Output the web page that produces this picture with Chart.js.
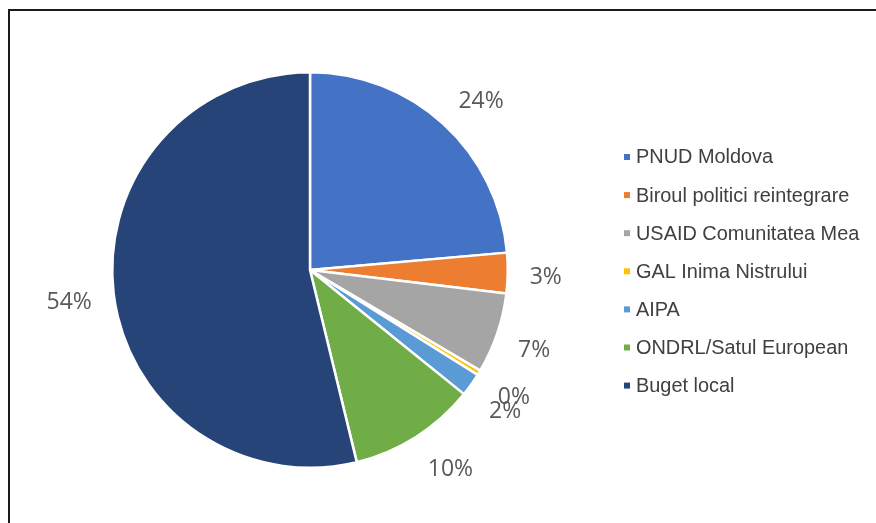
<!DOCTYPE html>
<html>
<head>
<meta charset="utf-8">
<script src="https://cdn.jsdelivr.net/npm/chart.js@4"></script>
<style>
  html, body { margin: 0; padding: 0; background: #fff; overflow: hidden; }
  #wrap { position: relative; width: 876px; height: 523px; }
  #frame { position: absolute; left: 8px; top: 9px; width: 900px; height: 600px; border: 2px solid #1a1a1a; box-sizing: border-box; }
  #pie { position: absolute; left: 0; top: 0; }
</style>
</head>
<body>
<div id="wrap">
  <div id="frame"></div>
  <canvas id="pie" width="876" height="523"></canvas>
</div>
<script>
const labels = ['PNUD Moldova', 'Biroul politici reintegrare', 'USAID Comunitatea Mea', 'GAL Inima Nistrului', 'AIPA', 'ONDRL/Satul European', 'Buget local'];
const shares = [23.6, 3.3, 6.6, 0.4, 1.9, 10.4, 53.8];
const colors = ['#4472C4', '#ED7D31', '#A5A5A5', '#FFC000', '#5B9BD5', '#70AD47', '#264478'];

const labelFont = '23px "Open Sans"';
const legendFont = '19.9px "Liberation Sans"';

// percent labels outside each slice: the label box's inner corner sits on a ring around the pie
const outsideLabels = {
  id: 'outsideLabels',
  afterDatasetsDraw(chart) {
    const ctx = chart.ctx;
    const meta = chart.getDatasetMeta(0);
    const total = shares.reduce((a, b) => a + b, 0);
    const clamp = v => Math.max(-1, Math.min(1, v * 2));
    ctx.save();
    ctx.font = labelFont;
    ctx.fillStyle = '#595959';
    ctx.textAlign = 'center';
    ctx.textBaseline = 'middle';
    meta.data.forEach((arc, i) => {
      const mid = (arc.startAngle + arc.endAngle) / 2;
      const ux = Math.cos(mid), uy = Math.sin(mid);
      const txt = Math.round(shares[i] / total * 100) + '%';
      const w = ctx.measureText(txt).width, h = 20;
      const d = arc.outerRadius + 22;
      const x = arc.x + ux * d + clamp(ux) * w / 2;
      const y = arc.y + uy * d + clamp(uy) * h / 2;
      ctx.fillText(txt, x, y + 3.5);
    });
    ctx.restore();
  }
};

// legend on the right, small squares
const sideLegend = {
  id: 'sideLegend',
  afterDraw(chart) {
    const ctx = chart.ctx;
    ctx.save();
    ctx.font = legendFont;
    ctx.textBaseline = 'middle';
    labels.forEach((lab, i) => {
      const y = 157 + i * 38.1;
      ctx.fillStyle = colors[i];
      ctx.fillRect(624, y - 3, 6, 6);
      ctx.fillStyle = '#404040';
      ctx.fillText(lab, 636, y + 1);
    });
    ctx.restore();
  }
};

function draw() {
  new Chart(document.getElementById('pie'), {
    type: 'pie',
    data: {
      labels: labels,
      datasets: [{
        data: shares,
        backgroundColor: colors,
        borderColor: '#ffffff',
        borderWidth: 2.5,
      }]
    },
    options: {
      responsive: false,
      animation: false,
      layout: { padding: { left: 111, right: 367, top: 71, bottom: 54 } },
      plugins: {
        legend: { display: false },
        tooltip: { enabled: false }
      }
    },
    plugins: [outsideLabels, sideLegend]
  });
}

Promise.all([document.fonts.load(labelFont), document.fonts.load(legendFont)]).then(draw, draw);
</script>
</body>
</html>
